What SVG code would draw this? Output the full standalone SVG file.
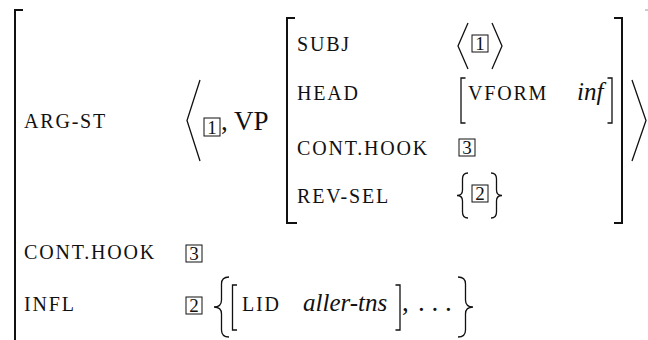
<svg xmlns="http://www.w3.org/2000/svg" width="648" height="340" viewBox="0 0 648 340">
<style>
.f{font-size:20px;letter-spacing:1.8px;fill:#111}
.v{font-size:27px;fill:#111}
.i{font-size:25px;font-style:italic;fill:#111}
.n{font-size:19px;text-anchor:middle;fill:#111}
.bk{fill:none;stroke:#111;stroke-width:2}
.d{fill:none;stroke:#111;stroke-width:1.3;stroke-linejoin:miter}
.box{fill:none;stroke:#111;stroke-width:1}
</style>
<rect width="648" height="340" fill="#fff"/>
<g id="outer">
  <path class="bk" d="M23,10 H15 V340"/>
  <path d="M645,10 H648" stroke="#999" stroke-width="1"/>
</g>
<g id="arg-st">
  <text class="f" font-family="Liberation Serif" x="24" y="128">ARG-ST</text>
  <polyline class="d" points="200,80 187,120.5 200,161"/>
  <rect class="box" x="204" y="118" width="16" height="18"/>
  <text class="n" font-family="Liberation Serif" x="212" y="134">1</text>
  <text class="v" font-family="Liberation Serif" x="221" y="130">, VP</text>
  <path class="bk" d="M295,18 H287 V223 H297"/>
  <path class="bk" d="M614,18 H622 V223 H614"/>
  <polyline class="d" points="632,80 646,120.5 632,161"/>
</g>
<g id="subj">
  <text class="f" font-family="Liberation Serif" x="297" y="51">SUBJ</text>
  <polyline class="d" points="468,23 458,46 468,69"/>
  <rect class="box" x="472" y="35" width="16" height="17"/>
  <text class="n" font-family="Liberation Serif" x="480" y="50">1</text>
  <polyline class="d" points="492,23 502,46 492,69"/>
</g>
<g id="head">
  <text class="f" font-family="Liberation Serif" x="297" y="100">HEAD</text>
  <path class="d" d="M465.5,78 H461 V123 H465.5"/>
  <text class="f" font-family="Liberation Serif" x="468" y="100">VFORM</text>
  <text class="i" font-family="Liberation Serif" x="577" y="100">inf</text>
  <path class="d" d="M607.5,78 H612 V123 H607.5"/>
</g>
<g id="cont-hook-inner">
  <text class="f" font-family="Liberation Serif" x="297" y="155">CONT.HOOK</text>
  <rect class="box" x="459" y="139" width="16" height="17"/>
  <text class="n" font-family="Liberation Serif" x="467" y="154">3</text>
</g>
<g id="rev-sel">
  <text class="f" font-family="Liberation Serif" x="297" y="203">REV-SEL</text>
  <path class="d" d="M468,173 Q462.5,173 462.5,179 L462.5,190 Q462.5,195.5 457,195.5 Q462.5,195.5 462.5,201 L462.5,212 Q462.5,218 468,218"/>
  <rect class="box" x="472" y="185" width="16" height="17"/>
  <text class="n" font-family="Liberation Serif" x="480" y="200">2</text>
  <path class="d" d="M491,173 Q496.5,173 496.5,179 L496.5,190 Q496.5,195.5 502,195.5 Q496.5,195.5 496.5,201 L496.5,212 Q496.5,218 491,218"/>
</g>
<g id="cont-hook-outer">
  <text class="f" font-family="Liberation Serif" x="24" y="259">CONT.HOOK</text>
  <rect class="box" x="186" y="245" width="16" height="17"/>
  <text class="n" font-family="Liberation Serif" x="194" y="260">3</text>
</g>
<g id="infl">
  <text class="f" font-family="Liberation Serif" x="24" y="311">INFL</text>
  <rect class="box" x="186" y="297" width="16" height="17"/>
  <text class="n" font-family="Liberation Serif" x="194" y="312">2</text>
  <path class="d" d="M229,277 Q221.5,277 221.5,284 L221.5,300 Q221.5,307 214,307 Q221.5,307 221.5,314 L221.5,330 Q221.5,337 229,337"/>
  <path class="d" d="M237,285 H232.5 V330 H237"/>
  <text class="f" font-family="Liberation Serif" x="242" y="311">LID</text>
  <text class="i" font-family="Liberation Serif" x="303" y="311">aller-tns</text>
  <path class="d" d="M395.5,285 H400 V330 H395.5"/>
  <text class="v" font-family="Liberation Serif" x="402" y="311">,</text>
  <text class="v" font-family="Liberation Serif" x="418" y="311">. . .</text>
  <path class="d" d="M458,277 Q465.5,277 465.5,284 L465.5,300 Q465.5,307 473,307 Q465.5,307 465.5,314 L465.5,330 Q465.5,337 458,337"/>
</g>
</svg>
